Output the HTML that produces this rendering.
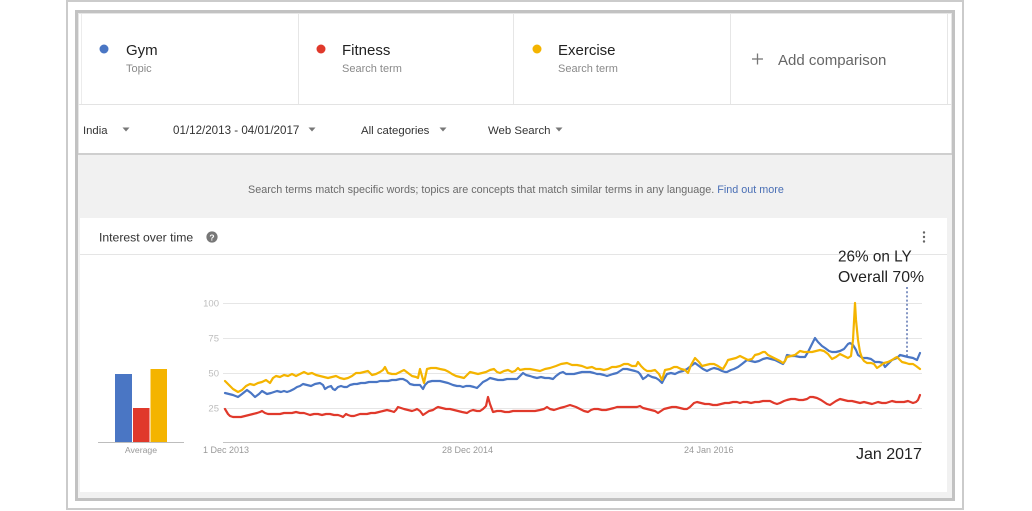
<!DOCTYPE html>
<html>
<head>
<meta charset="utf-8">
<style>
  html,body{margin:0;padding:0;background:#fff;}
  svg{display:block;}
  text{font-family:"Liberation Sans",Arial,sans-serif;}
</style>
</head>
<body>
<svg width="1032" height="511" viewBox="0 0 1032 511" xmlns="http://www.w3.org/2000/svg">
  <!-- outer frame -->
  <rect x="0" y="0" width="1032" height="511" fill="#fff"/>
  <rect x="67" y="1" width="896" height="508" fill="#fff" stroke="#cbcbcb" stroke-width="2"/>
  <!-- inner frame -->
  <rect x="76.5" y="11.5" width="877" height="488" fill="#fff" stroke="#c2c2c2" stroke-width="3"/>
  <rect x="78.5" y="13.5" width="873" height="484" fill="none" stroke="#e6e6e6" stroke-width="1"/>

  <!-- gray area -->
  <rect x="78" y="155" width="874" height="343" fill="#f1f1f1"/>
  <!-- white chart card -->
  <rect x="80" y="218" width="867" height="274" fill="#fff"/>

  <!-- term row separators -->
  <line x1="81.5" y1="14" x2="81.5" y2="104" stroke="#ececec"/>
  <line x1="298.5" y1="14" x2="298.5" y2="104" stroke="#e6e6e6"/>
  <line x1="513.5" y1="14" x2="513.5" y2="104" stroke="#e6e6e6"/>
  <line x1="730.5" y1="14" x2="730.5" y2="104" stroke="#e6e6e6"/>
  <line x1="947.5" y1="14" x2="947.5" y2="104" stroke="#e6e6e6"/>
  <line x1="78" y1="104.5" x2="952" y2="104.5" stroke="#e3e3e3"/>
  <line x1="78" y1="154" x2="952" y2="154" stroke="#cfcfcf" stroke-width="2"/>

  <!-- terms -->
  <circle cx="104" cy="49" r="4.5" fill="#4a76c4"/>
  <text x="126" y="55" font-size="15" fill="#222">Gym</text>
  <text x="126" y="72" font-size="11" fill="#8a8a8a">Topic</text>

  <circle cx="321" cy="49" r="4.5" fill="#e0392b"/>
  <text x="342" y="55" font-size="15" fill="#222">Fitness</text>
  <text x="342" y="72" font-size="11" fill="#8a8a8a">Search term</text>

  <circle cx="537" cy="49" r="4.5" fill="#f4b400"/>
  <text x="558" y="55" font-size="15" fill="#222">Exercise</text>
  <text x="558" y="72" font-size="11" fill="#8a8a8a">Search term</text>

  <line x1="752" y1="59" x2="763" y2="59" stroke="#777" stroke-width="1.3"/>
  <line x1="757.5" y1="53.5" x2="757.5" y2="64.5" stroke="#777" stroke-width="1.3"/>
  <text x="778" y="65" font-size="15" fill="#666">Add comparison</text>

  <!-- filters -->
  <text x="83" y="134" font-size="11.3" fill="#333">India</text>
  <polygon points="122.5,127.5 129.5,127.5 126,131.5" fill="#777"/>
  <text x="173" y="134" font-size="11.6" fill="#333">01/12/2013 - 04/01/2017</text>
  <polygon points="308.5,127.5 315.5,127.5 312,131.5" fill="#777"/>
  <text x="361" y="134" font-size="11.4" fill="#333">All categories</text>
  <polygon points="439.5,127.5 446.5,127.5 443,131.5" fill="#777"/>
  <text x="488" y="134" font-size="11.4" fill="#333">Web Search</text>
  <polygon points="555.5,127.5 562.5,127.5 559,131.5" fill="#777"/>

  <!-- info text -->
  <text x="248" y="193" font-size="10.8" fill="#6b6b6b">Search terms match specific words; topics are concepts that match similar terms in any language. <tspan fill="#4a6fb5">Find out more</tspan></text>

  <!-- card header -->
  <text x="99" y="241.5" font-size="12.2" fill="#333">Interest over time</text>
  <circle cx="212" cy="237" r="5.6" fill="#777"/>
  <text x="212" y="240.3" font-size="8.5" font-weight="bold" fill="#fff" text-anchor="middle">?</text>
  <circle cx="924" cy="232.5" r="1.2" fill="#666"/>
  <circle cx="924" cy="237" r="1.2" fill="#666"/>
  <circle cx="924" cy="241.5" r="1.2" fill="#666"/>
  <line x1="80" y1="254.5" x2="947" y2="254.5" stroke="#e5e5e5"/>

  <!-- annotation -->
  <text x="838" y="261.5" font-size="15.3" fill="#222">26% on LY</text>
  <text x="838" y="282" font-size="15.8" fill="#222">Overall 70%</text>

  <!-- grid -->
  <g stroke="#e6e6e6" stroke-width="1">
    <line x1="223" y1="303.5" x2="922" y2="303.5"/>
    <line x1="223" y1="338.5" x2="922" y2="338.5"/>
    <line x1="223" y1="373.5" x2="922" y2="373.5"/>
    <line x1="223" y1="408.5" x2="922" y2="408.5"/>
  </g>
  <line x1="223" y1="442.5" x2="922" y2="442.5" stroke="#c4c4c4"/>
  <g font-size="9.5" fill="#bdbdbd" text-anchor="end">
    <text x="219" y="306.5">100</text>
    <text x="219" y="341.5">75</text>
    <text x="219" y="376.5">50</text>
    <text x="219" y="411.5">25</text>
  </g>

  <!-- x labels -->
  <g font-size="9" fill="#999">
    <text x="203" y="453">1 Dec 2013</text>
    <text x="442" y="453">28 Dec 2014</text>
    <text x="684" y="453">24 Jan 2016</text>
  </g>
  <text x="856" y="459" font-size="16" fill="#222">Jan 2017</text>

  <!-- average bars -->
  <rect x="115" y="374" width="17" height="68.5" fill="#4a76c4"/>
  <rect x="133" y="408" width="16.5" height="34.5" fill="#e0392b"/>
  <rect x="150.5" y="369" width="16.5" height="73.5" fill="#f4b400"/>
  <line x1="98" y1="442.5" x2="184" y2="442.5" stroke="#bdbdbd"/>
  <text x="141" y="453" font-size="8.7" fill="#999" text-anchor="middle">Average</text>

  <!-- dotted marker -->
  <line x1="907" y1="287" x2="907" y2="356" stroke="#5b73b0" stroke-width="1.5" stroke-dasharray="2,2.2"/>

  <!-- series -->
  <g fill="none" stroke-width="2.2" stroke-linejoin="round" stroke-linecap="round">
    <polyline stroke="#e0392b" points="225,409 228,414 230,416 233,417 237,417 241,417 245,416 249,415 253,414 257,413 260,412 262,411 265,413 268,414 272,414 276,414 280,414 284,413 288,413 292,413 296,412 300,413 304,413 307,414 310,415 314,414 318,414 322,415 326,414 330,414 334,415 338,415 341,416 343,417 346,414 348,415 351,416 354,416 357,415 360,414 363,414 367,414 371,413 375,413 379,412 383,411 387,410 391,411 394,412 396,410 398,407 401,408 404,409 408,410 412,411 415,410 417,409 420,411 423,415 426,413 429,411 433,410 436,408 438,407 442,408 446,409 450,409 454,410 458,411 462,412 467,413 470,411 473,410 477,411 480,411 483,409 486,406 488,397 490,404 493,412 497,411 501,411 505,412 509,412 513,411 517,411 520,411 525,411 530,411 535,411 540,410 544,409 547,407 550,409 554,410 557,409 560,408 564,407 567,406 570,405 573,406 576,407 580,409 584,411 588,412 591,410 594,409 598,409 602,410 606,410 610,409 614,408 617,407 621,407 625,407 629,407 633,407 637,407 640,406 643,408 647,409 651,410 655,411 658,413 661,411 664,409 668,408 672,407 676,407 680,408 684,409 687,409 690,407 694,403 697,402 701,403 705,404 709,404 713,405 717,405 721,404 725,403 729,403 733,402 737,402 740,403 743,402 747,402 751,403 755,402 759,402 763,401 767,401 770,401 774,403 777,404 780,403 784,401 787,400 791,399 795,399 799,400 803,400 807,399 810,397 813,397 817,398 821,400 824,402 827,404 830,405 833,403 836,401 840,399 844,400 848,401 852,401 856,402 860,403 864,402 868,403 872,404 875,403 878,402 882,403 886,403 889,402 892,401 896,402 900,402 904,402 908,401 913,403 916,402 918,400 920,395"/>
    <polyline stroke="#4a76c4" points="225,393 229,394 233,395 238,397 242,394 247,390 251,393 255,397 259,394 262,391 267,394 271,393 274,392 277,391 281,392 284,391 287,392 290,391 294,389 297,387 300,386 303,384 307,385 311,386 315,384 320,383 323,385 325,389 328,387 331,386 333,389 335,390 338,387 341,386 344,387 347,387 350,385 354,384 357,384 361,383 365,383 369,382 373,382 377,382 380,381 384,381 388,381 392,380 396,380 400,379 403,379 407,381 410,384 414,385 417,385 420,385 423,389 425,385 428,382 432,381 436,381 440,381 444,382 448,383 453,385 457,386 460,386 463,387 466,386 470,386 474,387 477,388 480,385 483,382 487,380 490,378 494,379 498,380 503,380 507,379 512,379 517,379 520,376 523,373 526,375 530,376 533,377 537,378 541,377 545,378 549,378 553,379 556,376 560,373 563,372 566,374 570,374 574,374 578,373 582,372 586,372 590,372 594,373 597,374 600,374 604,375 607,376 610,375 613,374 617,373 620,371 623,369 627,369 631,370 635,371 638,372 640,374 643,379 646,377 648,375 652,377 656,378 659,380 662,383 664,379 667,374 671,373 675,374 679,372 683,371 687,369 691,366 695,363 699,366 703,369 707,371 711,369 714,368 718,369 722,371 725,372 727,372 731,370 734,369 738,367 742,364 747,360 751,361 755,362 759,361 763,359 767,358 771,359 775,360 779,362 783,364 785,361 787,355 791,356 795,356 800,357 805,357 808,352 812,344 815,338 818,342 822,346 825,348 829,351 832,352 836,352 840,351 844,349 848,344 850,343 853,345 856,350 858,355 861,357 863,358 867,358 871,359 875,362 879,362 883,363 885,367 888,364 892,360 897,358 900,355 904,356 908,357 913,358 917,360 920,353"/>
    <polyline stroke="#f4b400" points="225,381 229,385 233,389 238,392 242,390 246,386 250,384 254,385 258,383 262,382 266,380 270,383 273,378 276,376 280,377 284,375 288,376 292,374 296,376 300,374 304,372 308,374 312,373 316,375 320,376 324,377 328,378 332,377 336,376 340,378 344,379 348,378 352,376 356,373 360,373 364,372 368,371 372,375 376,374 380,372 383,370 385,367 388,373 392,374 396,374 400,372 404,370 408,373 412,376 416,377 418,378 420,369 422,376 424,383 427,369 431,368 436,368 440,369 445,370 449,372 452,374 456,376 460,377 464,378 467,375 470,372 474,373 478,374 482,373 486,372 490,370 494,369 497,372 500,373 504,371 508,370 512,372 515,371 518,368 520,370 525,369 530,369 535,370 540,371 545,369 550,368 556,366 561,364 567,363 572,365 577,365 582,366 587,368 592,367 596,369 600,369 604,370 608,369 612,367 616,367 620,366 624,364 628,364 632,366 636,366 638,362 641,366 644,369 647,371 651,371 655,370 659,374 662,380 665,370 670,369 674,367 677,367 681,369 685,370 688,373 691,365 695,358 699,362 702,366 706,365 710,364 714,364 718,366 721,368 723,369 726,364 728,360 732,359 736,358 740,356 744,358 748,360 752,359 755,355 759,354 763,352 765,352 768,355 772,357 776,359 780,361 783,363 785,361 787,357 791,356 795,355 800,351 804,352 808,352 812,352 816,351 820,350 824,351 828,354 832,359 836,357 840,354 844,356 848,358 851,356 853,340 855,303 856,320 858,340 860,352 862,358 864,361 867,363 871,363 874,364 877,368 880,366 884,363 888,362 892,360 895,358 897,357 900,360 902,362 906,363 909,364 913,364 916,366 920,369"/>
  </g>
</svg>
</body>
</html>
